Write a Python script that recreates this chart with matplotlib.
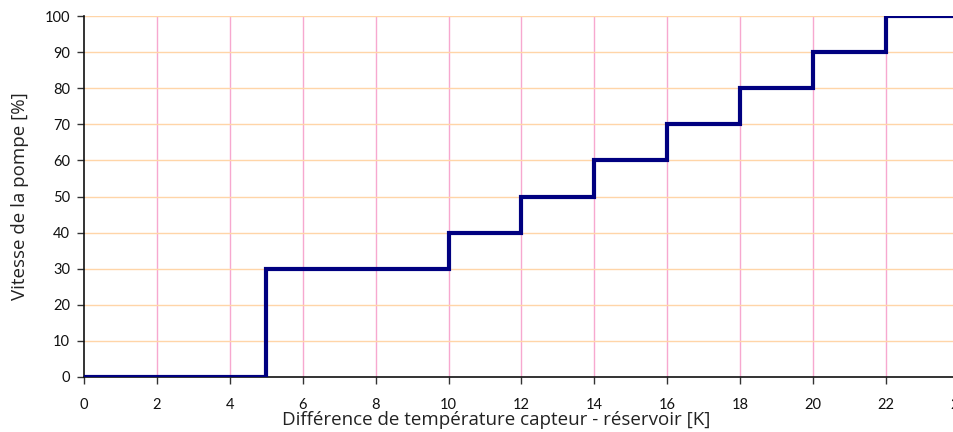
import matplotlib
matplotlib.use("Agg")
import matplotlib.pyplot as plt

# Pump speed as a function of collector - tank temperature difference
delta_t = [0, 5, 10, 12, 14, 16, 18, 20, 22, 24]
speed = [0, 30, 40, 50, 60, 70, 80, 90, 100, 100]

x_ticks = list(range(0, 25, 2))
y_ticks = list(range(0, 101, 10))

plt.rcParams['font.family'] = ['Lato', 'DejaVu Sans']

fig = plt.figure(figsize=(9.54, 4.32), dpi=100)
ax = fig.add_axes([84 / 954, 55 / 432, 875 / 954, 361 / 432])

ax.step(delta_t, speed, where='post', color='#000080', lw=3.0,
        solid_joinstyle='miter', zorder=3)

ax.set_xlim(0, 24)
ax.set_ylim(0, 100)
ax.set_xticks(x_ticks)
ax.set_yticks(y_ticks)

for x in x_ticks[1:]:
    ax.axvline(x, color='#f7a8cf', lw=1.0, zorder=1)
for y in y_ticks[1:]:
    ax.axhline(y, color='#ffd5a8', lw=1.0, zorder=1)

for side in ('top', 'right'):
    ax.spines[side].set_visible(False)
for side in ('left', 'bottom'):
    ax.spines[side].set_color('#111111')
    ax.spines[side].set_linewidth(1.2)

ax.tick_params(axis='both', direction='out', length=5, width=1.0,
               colors='#333333', labelsize=10.5)
ax.tick_params(axis='x', pad=10)
ax.tick_params(axis='y', pad=5)
for lbl in ax.get_xticklabels() + ax.get_yticklabels():
    lbl.set_color('#111111')

label_font = ['Open Sans', 'DejaVu Sans']
ax.set_xlabel('Différence de température capteur - réservoir [K]',
              fontsize=13.5, color='#222222', family=label_font)
ax.xaxis.set_label_coords(0.471, -0.095)
ax.set_ylabel('Vitesse de la pompe [%]', fontsize=13.5, color='#222222',
              labelpad=11, family=label_font)

fig.savefig('out.png', dpi=100)
